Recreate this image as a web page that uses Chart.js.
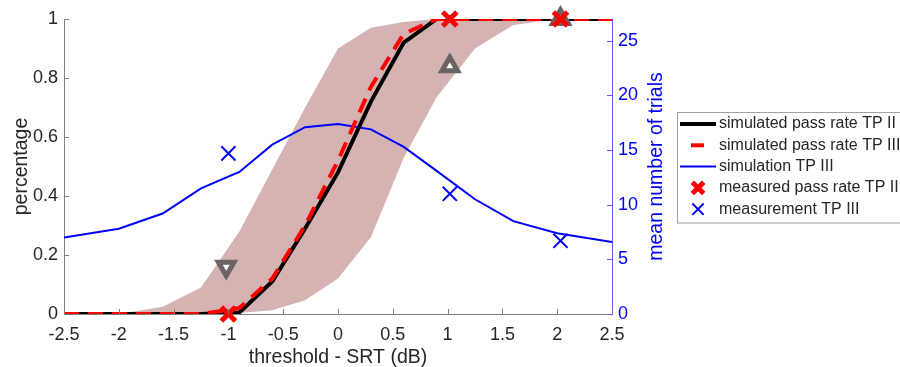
<!DOCTYPE html>
<html>
<head>
<meta charset="utf-8">
<script src="https://cdn.jsdelivr.net/npm/chart.js@4"></script>
<style>
  body { margin: 0; background: #fff; overflow: hidden; }
</style>
</head>
<body>
<canvas id="chart" width="900" height="367"></canvas>
<script>
// x grid of the simulation (threshold - SRT in dB)
const thresholds = [-2.5, -2, -1.6, -1.25, -0.9, -0.6, -0.3, 0, 0.3, 0.6, 0.9, 1.25, 1.6, 2, 2.5];
const passRateTP2 = [0, 0, 0, 0, 0.005, 0.11, 0.29, 0.48, 0.72, 0.92, 1, 1, 1, 1, 1];
const passRateTP3 = [0, 0, 0, 0, 0.02, 0.12, 0.30, 0.52, 0.77, 0.95, 1, 1, 1, 1, 1];
const bandLow = [0, 0, 0, 0, 0.003, 0.013, 0.047, 0.12, 0.26, 0.53, 0.735, 0.90, 0.98, 1, 1];
const bandHigh = [0, 0, 0.025, 0.09, 0.28, 0.49, 0.70, 0.90, 0.97, 0.99, 1, 1, 1, 1, 1];
const trialsTP3 = [7.0, 7.8, 9.2, 11.5, 13.0, 15.5, 17.1, 17.4, 16.9, 15.3, 13.1, 10.5, 8.5, 7.4, 6.6];

// measurements
const measX = [-1.0, 1.02, 2.03];
const measPassTP2 = [0, 1, 1];
const measTrialsTP3 = [14.7, 11.0, 6.7];
const triX = [-1.02, 1.02, 2.03];
const triY = [0.16, 0.84, 1.0];
const triRotation = [180, 0, 0];

// ticks
const xTicks = [-2.5, -2, -1.5, -1, -0.5, 0, 0.5, 1, 1.5, 2, 2.5];
const pctTicks = [0, 0.2, 0.4, 0.6, 0.8, 1];
const trialTicks = [0, 5, 10, 15, 20, 25];

const pts = (xs, ys) => xs.map((x, i) => ({x: x, y: ys[i]}));

const gray = '#262626';
const blue = '#0000ff';
const bandColor = 'rgb(214,179,179)';

Chart.defaults.font.family = '"Liberation Sans", Arial, sans-serif';
Chart.defaults.color = gray;

// inward tick marks, right-axis title and the boxed legend
const extras = {
  id: 'extras',
  afterDraw(chart) {
    const ctx = chart.ctx;
    const a = chart.chartArea;
    const {x, y, y2} = chart.scales;
    ctx.save();
    ctx.lineWidth = 1;
    ctx.strokeStyle = '#808080';
    ctx.beginPath();
    xTicks.forEach(v => {
      const px = Math.round(x.getPixelForValue(v)) + 0.5;
      ctx.moveTo(px, a.bottom); ctx.lineTo(px, a.bottom - 5);
    });
    pctTicks.forEach(v => {
      const py = Math.round(y.getPixelForValue(v)) + 0.5;
      ctx.moveTo(a.left, py); ctx.lineTo(a.left + 5, py);
    });
    ctx.stroke();
    ctx.strokeStyle = '#5a5aff';
    ctx.beginPath();
    trialTicks.forEach(v => {
      const py = Math.round(y2.getPixelForValue(v)) + 0.5;
      ctx.moveTo(a.right, py); ctx.lineTo(a.right - 5, py);
    });
    ctx.stroke();

    // right axis title, reading bottom to top
    ctx.fillStyle = blue;
    ctx.font = '19.5px "Liberation Sans", Arial, sans-serif';
    ctx.textAlign = 'center';
    ctx.textBaseline = 'middle';
    ctx.translate(657, (a.top + a.bottom) / 2);
    ctx.rotate(-Math.PI / 2);
    ctx.fillText('mean number of trials', 0, 0);
    ctx.restore();

    // legend
    const items = chart.data.datasets.filter(d => d.inLegend);
    const bx = 677, by = 112, rowH = 21.3;
    ctx.save();
    ctx.fillStyle = '#fff';
    ctx.fillRect(bx, by, 240, items.length * rowH + 4);
    ctx.strokeStyle = '#a0a0a0';
    ctx.lineWidth = 1;
    ctx.strokeRect(bx + 0.5, by + 0.5, 240, items.length * rowH + 4);
    ctx.font = '16px "Liberation Sans", Arial, sans-serif';
    ctx.textBaseline = 'middle';
    items.forEach((d, i) => {
      const cy = by + 12 + i * rowH;
      ctx.strokeStyle = d.borderColor;
      if (d.showLine === false) {
        ctx.lineWidth = d.pointBorderWidth;
        Chart.helpers.drawPoint(ctx, {
          pointStyle: d.pointStyle, radius: d.pointRadius * 0.8,
          borderWidth: d.pointBorderWidth, rotation: 0
        }, 698, cy);
      } else {
        ctx.lineWidth = d.borderWidth;
        ctx.beginPath();
        if (d.borderDash) {
          ctx.moveTo(691, cy); ctx.lineTo(704, cy);
        } else {
          ctx.moveTo(680, cy); ctx.lineTo(716, cy);
        }
        ctx.stroke();
      }
      ctx.fillStyle = gray;
      ctx.fillText(d.label, 719, cy);
    });
    ctx.restore();
  }
};

const plain = v => String(v);

new Chart(document.getElementById('chart'), {
  type: 'line',
  data: {
    datasets: [
      {
        label: 'band high', data: pts(thresholds, bandHigh), yAxisID: 'y',
        borderWidth: 0, pointRadius: 0, fill: '+1', backgroundColor: bandColor, order: 10
      },
      {
        label: 'band low', data: pts(thresholds, bandLow), yAxisID: 'y',
        borderWidth: 0, pointRadius: 0, fill: false, order: 9
      },
      {
        label: 'simulated pass rate TP II', data: pts(thresholds, passRateTP2), yAxisID: 'y',
        borderColor: '#000', borderWidth: 4, pointRadius: 0, tension: 0, order: 7, inLegend: true
      },
      {
        label: 'simulated pass rate TP III', data: pts(thresholds, passRateTP3), yAxisID: 'y',
        borderColor: '#ff0000', borderWidth: 4, borderDash: [15, 9], pointRadius: 0, order: 6, inLegend: true
      },
      {
        label: 'simulation TP III', data: pts(thresholds, trialsTP3), yAxisID: 'y2',
        borderColor: blue, borderWidth: 2, pointRadius: 0, order: 8, inLegend: true
      },
      {
        label: 'measured pass rate TP II', data: pts(measX, measPassTP2), yAxisID: 'y',
        showLine: false, pointStyle: 'crossRot', pointRadius: 10, pointBorderWidth: 5,
        borderColor: '#ff0000', pointBorderColor: '#ff0000', order: 3, clip: false, inLegend: true
      },
      {
        label: 'measurement TP III', data: pts(measX, measTrialsTP3), yAxisID: 'y2',
        showLine: false, pointStyle: 'crossRot', pointRadius: 10, pointBorderWidth: 2,
        borderColor: blue, pointBorderColor: blue, order: 2, clip: false, inLegend: true
      },
      {
        label: 'measured pass rate TP III', data: pts(triX, triY), yAxisID: 'y',
        showLine: false, pointStyle: 'triangle', pointRadius: 9, pointBorderWidth: 5,
        pointRotation: triRotation, pointBorderColor: '#6b6363', pointBackgroundColor: '#fff',
        order: 4, clip: false
      }
    ]
  },
  options: {
    responsive: false,
    animation: false,
    events: [],
    devicePixelRatio: 1,
    layout: { padding: { top: 19, right: 228, left: 0, bottom: 0 } },
    plugins: { legend: { display: false }, tooltip: { enabled: false } },
    scales: {
      x: {
        type: 'linear', min: -2.5, max: 2.5,
        afterBuildTicks: s => { s.ticks = xTicks.map(v => ({value: v})); },
        afterFit: s => { s.height = 53; },
        grid: { display: false, drawTicks: false },
        border: { color: '#808080' },
        ticks: { font: { size: 18 }, padding: 10, color: gray, maxRotation: 0, callback: plain },
        title: { display: true, text: 'threshold - SRT (dB)', font: { size: 19.5 }, color: gray, padding: { bottom: -2 } }
      },
      y: {
        position: 'left', min: 0, max: 1,
        afterBuildTicks: s => { s.ticks = pctTicks.map(v => ({value: v})); },
        afterFit: s => { s.width = 64; },
        grid: { display: false, drawTicks: false },
        border: { color: '#808080' },
        ticks: { font: { size: 18 }, padding: 6, color: gray, callback: plain },
        title: { display: true, text: 'percentage', font: { size: 19.5 }, color: gray, padding: { top: 10 } }
      },
      y2: {
        position: 'right', min: 0, max: 27,
        afterBuildTicks: s => { s.ticks = trialTicks.map(v => ({value: v})); },
        afterFit: s => { s.width = 60; },
        grid: { display: false, drawTicks: false },
        border: { color: '#5a5aff' },
        ticks: { font: { size: 18 }, padding: 6, color: blue, callback: plain }
      }
    }
  },
  plugins: [extras]
});
</script>
</body>
</html>
